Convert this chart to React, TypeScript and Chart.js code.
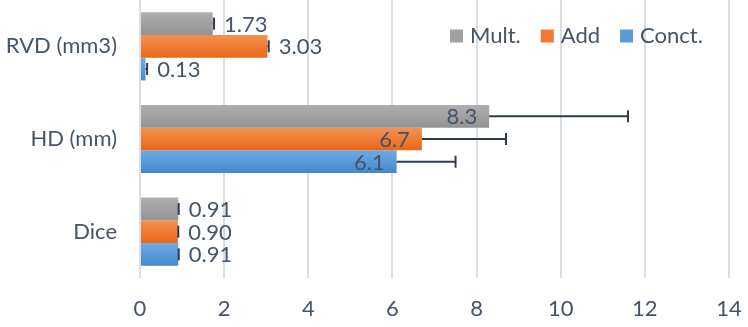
import { useEffect, useRef } from "react";
import { Chart, registerables } from "chart.js";

Chart.register(...registerables);

const categories = ["RVD (mm3)", "HD (mm)", "Dice"];
const seriesNames = ["Mult.", "Add", "Conct."];
const multValues = [1.73, 8.3, 0.91];
const addValues = [3.03, 6.7, 0.9];
const conctValues = [0.13, 6.1, 0.91];
const multErrors = [0.03, 3.3, 0.01];
const addErrors = [0.03, 2.0, 0.01];
const conctErrors = [0.04, 1.4, 0.01];
const labelDecimals = [2, 1, 2];
const xTickValues = [0, 2, 4, 6, 8, 10, 12, 14];

const FONT = "Lato";
const FS = 22;
const TEXT = "#44546a";
const gradients = [
  ["#afafaf", "#939393"],
  ["#f4924f", "#e8661a"],
  ["#6eabe3", "#4488cc"],
];
const legendColors = ["#a0a0a0", "#ef7a30", "#5b9bd5"];

export default function App() {
  const ref = useRef<HTMLCanvasElement | null>(null);

  useEffect(() => {
    document.body.style.margin = "0";
    const canvas = ref.current;
    if (!canvas) return;
    const errors = [multErrors, addErrors, conctErrors];

    const gradientPlugin = {
      id: "barGradient",
      beforeDatasetsDraw(chart: any) {
        const ctx = chart.ctx;
        chart.data.datasets.forEach((_: any, i: number) => {
          const meta = chart.getDatasetMeta(i);
          meta.data.forEach((el: any) => {
            const { y, height } = el.getProps(["y", "height"], true);
            const top = y - height / 2;
            const g = ctx.createLinearGradient(0, top, 0, top + height);
            g.addColorStop(0, gradients[i][0]);
            g.addColorStop(1, gradients[i][1]);
            el.options = Object.assign({}, el.options, { backgroundColor: g });
          });
        });
      },
    };

    const extrasPlugin = {
      id: "extras",
      afterDatasetsDraw(chart: any) {
        const ctx = chart.ctx;
        const xs = chart.scales.x;
        ctx.save();
        chart.data.datasets.forEach((ds: any, i: number) => {
          const meta = chart.getDatasetMeta(i);
          meta.data.forEach((el: any, j: number) => {
            const { x, y } = el.getProps(["x", "y"], true);
            const v = ds.data[j];
            const ex = xs.getPixelForValue(v + errors[i][j]);
            ctx.strokeStyle = "#2f3b4e";
            ctx.lineWidth = 2;
            ctx.beginPath();
            ctx.moveTo(x, y);
            ctx.lineTo(ex, y);
            ctx.stroke();
            ctx.beginPath();
            ctx.moveTo(ex, y - 6);
            ctx.lineTo(ex, y + 6);
            ctx.stroke();

            const label = v.toFixed(labelDecimals[j]);
            ctx.font = `${FS}px ${FONT}`;
            ctx.fillStyle = TEXT;
            ctx.textBaseline = "middle";
            if (v > 5) {
              ctx.textAlign = "right";
              ctx.fillText(label, x - 12, y + 1);
            } else {
              ctx.textAlign = "left";
              ctx.fillText(label, Math.max(x, ex) + 10, y + 1);
            }
          });
        });

        // legend
        ctx.font = `${FS}px ${FONT}`;
        ctx.textBaseline = "middle";
        ctx.textAlign = "left";
        let lx = 450;
        const ly = 36;
        seriesNames.forEach((name, i) => {
          ctx.fillStyle = legendColors[i];
          ctx.fillRect(lx, ly - 6.5, 13, 13);
          ctx.fillStyle = TEXT;
          ctx.fillText(name, lx + 20, ly);
          lx += 20 + ctx.measureText(name).width + 20;
        });
        ctx.restore();
      },
    };

    const chart = new Chart(canvas, {
      type: "bar",
      data: {
        labels: categories,
        datasets: [
          { label: seriesNames[0], data: multValues, backgroundColor: gradients[0][0] },
          { label: seriesNames[1], data: addValues, backgroundColor: gradients[1][0] },
          { label: seriesNames[2], data: conctValues, backgroundColor: gradients[2][0] },
        ],
      },
      options: {
        indexAxis: "y",
        animation: false,
        responsive: true,
        maintainAspectRatio: false,
        layout: { padding: { left: 0, right: 19, top: 0, bottom: 0 } },
        datasets: { bar: { categoryPercentage: 0.735, barPercentage: 1 } },
        plugins: { legend: { display: false }, tooltip: { enabled: false } },
        scales: {
          x: {
            min: 0,
            max: 14,
            afterBuildTicks: (s: any) => {
              s.ticks = xTickValues.map((v) => ({ value: v }));
            },
            afterFit: (s: any) => {
              s.height = 49;
              s.paddingLeft = 0;
              s.paddingRight = 0;
            },
            grid: { color: "#d9dee6", lineWidth: 2, drawTicks: false },
            border: { display: false },
            ticks: { font: { family: FONT, size: FS }, color: TEXT, padding: 18 },
          },
          y: {
            afterFit: (s: any) => {
              s.width = 140;
              s.paddingTop = 0;
              s.paddingBottom = 0;
            },
            grid: { display: false, drawTicks: false },
            border: { display: false },
            ticks: { font: { family: FONT, size: FS }, color: TEXT, padding: 23 },
          },
        },
      },
      plugins: [gradientPlugin, extrasPlugin],
    });
    return () => chart.destroy();
  }, []);

  return (
    <div style={{ width: 748, height: 327, position: "relative" }}>
      <canvas ref={ref} />
    </div>
  );
}
